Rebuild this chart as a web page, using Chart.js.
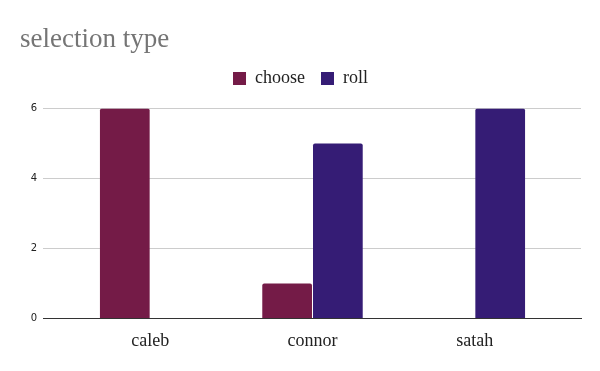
<!DOCTYPE html>
<html>
<head>
<meta charset="utf-8">
<script src="https://cdn.jsdelivr.net/npm/chart.js@4.4.1/dist/chart.umd.min.js"></script>
<style>
  body { margin: 0; background: #fff; }
  #wrap { width: 600px; height: 371px; }
</style>
</head>
<body>
<div id="wrap"><canvas id="myChart" width="600" height="371"></canvas></div>
<script>
const players = ["caleb", "connor", "satah"];
const chooseCounts = [6, 1, 0];
const rollCounts = [0, 5, 6];
const yTicks = [0, 2, 4, 6];

const serif = "'Liberation Serif', 'DejaVu Serif', serif";

// sheets leaves a gap between the plot edge and the first/last group
const insetCategories = {
    id: 'insetCategories',
    afterInit(chart) {
        // a bit more room under the legend
        const lg = chart.legend;
        const fit = lg.fit;
        lg.fit = function () {
            fit.call(this);
            this.height += 11;
        };
    },
    afterLayout(chart) {
        const x = chart.scales.x;
        x._startPixel = x.left + 26;
        x._endPixel = x.right - 25;
        x._length = x._endPixel - x._startPixel;
    }
};

const ctx = document.getElementById("myChart");
var myChart = new Chart(ctx, {
    type: 'bar',
    data: {
        labels: players,
        datasets: [{
            label: 'choose',
            data: chooseCounts,
            backgroundColor: '#741b47',
            borderRadius: { topLeft: 2, topRight: 2 },
            borderSkipped: 'bottom'
        }, {
            label: 'roll',
            data: rollCounts,
            backgroundColor: '#351c75',
            borderRadius: { topLeft: 2, topRight: 2 },
            borderSkipped: 'bottom'
        }]
    },
    options: {
        responsive: false,
        animation: false,
        categoryPercentage: 0.625,
        barPercentage: 0.98,
        layout: {
            padding: { left: 20, right: 19, top: 0, bottom: 15 }
        },
        scales: {
            x: {
                grid: { display: false },
                border: { display: true, color: '#333', width: 1 },
                ticks: {
                    color: '#222',
                    padding: 4,
                    font: { family: serif, size: 18 }
                }
            },
            y: {
                min: 0,
                max: 6,
                afterBuildTicks(scale) {
                    scale.ticks = yTicks.map(v => ({ value: v }));
                },
                afterFit(scale) {
                    scale.width = 23;
                },
                border: { display: false },
                grid: {
                    drawTicks: false,
                    color: (c) => c.tick && c.tick.value === 0 ? '#333' : '#ccc'
                },
                ticks: {
                    color: '#222',
                    padding: 6,
                    font: { family: "'DejaVu Sans', sans-serif", size: 10 }
                }
            }
        },
        plugins: {
            title: {
                display: true,
                text: 'selection type',
                align: 'start',
                color: '#757575',
                padding: { top: 24, bottom: -3 },
                font: { family: serif, size: 27, weight: 'normal' }
            },
            legend: {
                labels: {
                    boxWidth: 13,
                    boxHeight: 13,
                    color: '#222',
                    padding: 16,
                    font: { family: serif, size: 18 }
                }
            },
            tooltip: { enabled: false }
        }
    },
    plugins: [insetCategories]
});
</script>
</body>
</html>
